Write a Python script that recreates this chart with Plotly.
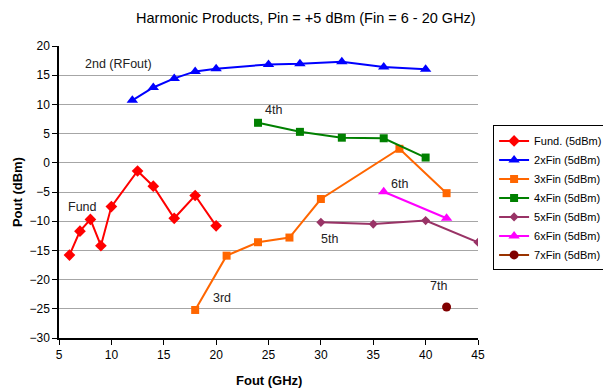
import plotly.graph_objects as go

fund_x = [6, 7, 8, 9, 10, 12.5, 14, 16, 18, 20]
fund_y = [-15.8, -11.7, -9.7, -14.2, -7.5, -1.4, -4.0, -9.5, -5.6, -10.8]

h2_x = [12, 14, 16, 18, 20, 25, 28, 32, 36, 40]
h2_y = [10.7, 12.9, 14.45, 15.65, 16.1, 16.85, 16.95, 17.3, 16.4, 16.0]

h3_x = [18, 21, 24, 27, 30, 37.5, 42]
h3_y = [-25.2, -15.9, -13.6, -12.8, -6.2, 2.4, -5.2]

h4_x = [24, 28, 32, 36, 40]
h4_y = [6.85, 5.3, 4.3, 4.2, 0.9]

h5_x = [30, 35, 40, 45]
h5_y = [-10.2, -10.5, -9.9, -13.6]

h6_x = [36, 42]
h6_y = [-4.95, -9.5]

h7_x = [42]
h7_y = [-24.7]

labels = ["Fund. (5dBm)", "2xFin (5dBm)", "3xFin (5dBm)", "4xFin (5dBm)",
          "5xFin (5dBm)", "6xFin (5dBm)", "7xFin (5dBm)"]

ann_text = ["2nd (RFout)", "Fund", "3rd", "4th", "5th", "6th", "7th"]
ann_x = [10.66, 7.2, 20.6, 25.5, 30.8, 37.5, 41.2]
ann_y = [16.9, -7.6, -23.2, 9.0, -13.1, -3.7, -21.1]

series = [
    (fund_x, fund_y, "red", "red", "diamond", 9),
    (h2_x, h2_y, "blue", "blue", "triangle-up", 10),
    (h3_x, h3_y, "#FF6600", "#FF6600", "square", 8),
    (h4_x, h4_y, "#008000", "#008000", "square", 8),
    (h5_x, h5_y, "#993366", "#993366", "diamond", 7),
    (h6_x, h6_y, "#FF00FF", "#FF00FF", "triangle-up", 10),
    (h7_x, h7_y, "#993300", "#800000", "circle", 9),
]

fig = go.Figure()
for (xs, ys, lc, mc, sym, ms), name in zip(series, labels):
    fig.add_trace(go.Scatter(
        x=xs, y=ys, name=name, mode="lines+markers",
        line=dict(color=lc, width=2),
        marker=dict(color=mc, symbol=sym, size=ms),
    ))

for t, x, y in zip(ann_text, ann_x, ann_y):
    fig.add_annotation(x=x, y=y, text=t, showarrow=False,
                       font=dict(size=12.5, color="#222222"))

# axis titles as annotations for precise placement
fig.add_annotation(xref="paper", yref="paper", x=0.5, y=-0.144,
                   xanchor="center", yanchor="middle", showarrow=False,
                   text="<b>Fout (GHz)</b>", font=dict(size=13, color="black"))
fig.add_annotation(xref="paper", yref="paper", x=-0.1, y=0.5,
                   xanchor="center", yanchor="middle", showarrow=False,
                   textangle=-90,
                   text="<b>Pout (dBm)</b>", font=dict(size=13, color="black"))

font_family = "Liberation Sans, Arial, sans-serif"
fig.update_layout(
    width=603, height=380,
    margin=dict(l=51, r=133, t=38, b=50, autoexpand=False),
    paper_bgcolor="white", plot_bgcolor="white",
    font=dict(family=font_family, size=12, color="black"),
    title=dict(text="Harmonic Products, Pin = +5 dBm (Fin = 6 - 20 GHz)",
               x=0.494, xanchor="center", y=1 - 10 / 380, yanchor="middle",
               xref="container", yref="container",
               font=dict(size=14.5, family=font_family, color="black")),
    showlegend=True,
    legend=dict(x=1.036, y=0.728, xanchor="left", yanchor="top",
                bordercolor="black", borderwidth=1,
                font=dict(size=11, family=font_family),
                itemwidth=30, tracegroupgap=0),
    xaxis=dict(range=[5, 45], tick0=5, dtick=5, showgrid=False,
               showline=True, linecolor="black", linewidth=1.5,
               ticks="outside", ticklen=5, tickcolor="black",
               zeroline=False, automargin=False),
    yaxis=dict(range=[-30, 20], tick0=-30, dtick=5, showgrid=True,
               gridcolor="#A6A6A6", gridwidth=1,
               showline=True, linecolor="black", linewidth=1.5,
               ticks="outside", ticklen=5, tickcolor="black",
               zeroline=False, automargin=False),
)

fig.write_html("out.html")
